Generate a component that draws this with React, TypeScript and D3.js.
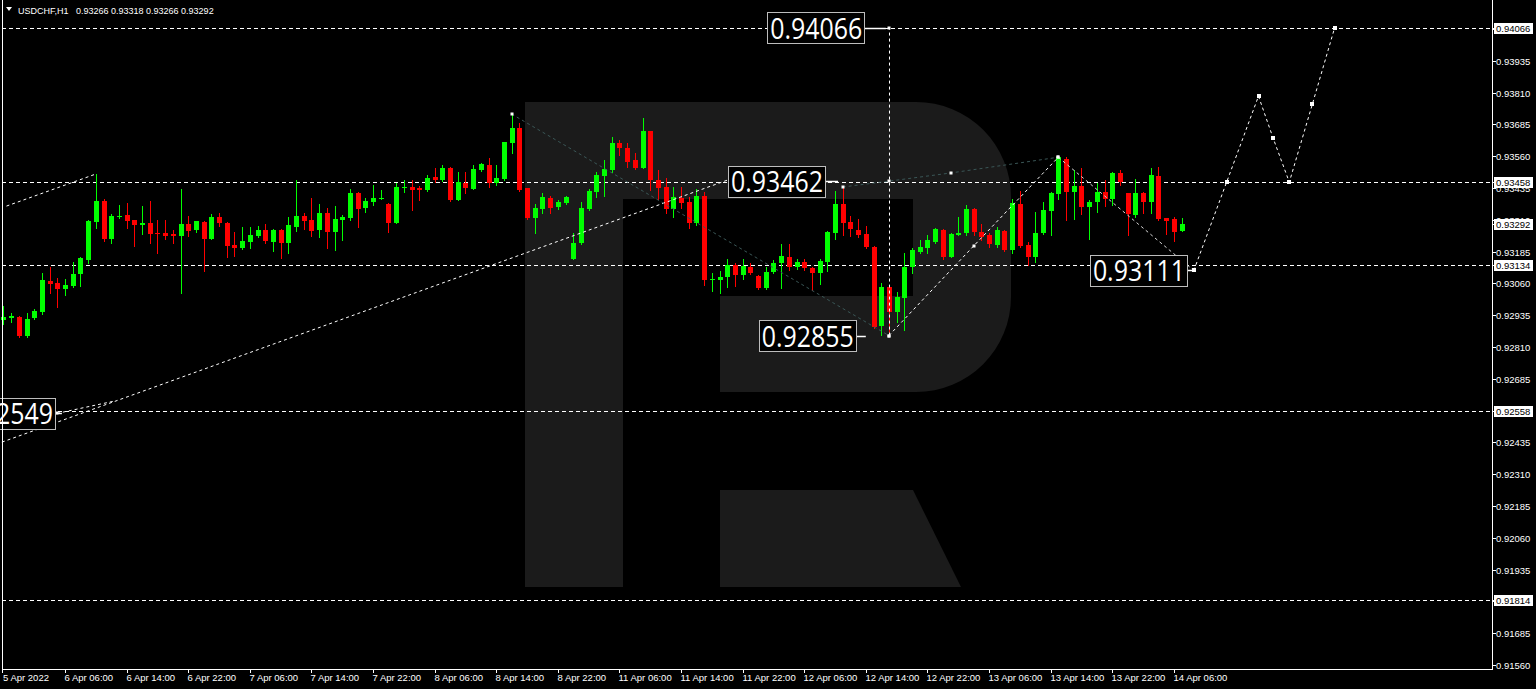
import React from "react";
import * as d3 from "d3";

const W = 1536;
const H = 689;

const symbolTitle = "USDCHF,H1";
const headerValues = ["0.93266", "0.93318", "0.93266", "0.93292"];

const timeLabels = [
  "5 Apr 2022", "6 Apr 06:00", "6 Apr 14:00", "6 Apr 22:00", "7 Apr 06:00", "7 Apr 14:00",
  "7 Apr 22:00", "8 Apr 06:00", "8 Apr 14:00", "8 Apr 22:00", "11 Apr 06:00", "11 Apr 14:00",
  "11 Apr 22:00", "12 Apr 06:00", "12 Apr 14:00", "12 Apr 22:00", "13 Apr 06:00", "13 Apr 14:00",
  "13 Apr 22:00", "14 Apr 06:00",
];
const timeLabelIdx = [0, 8, 16, 24, 32, 40, 48, 56, 64, 72, 80, 88, 96, 104, 112, 120, 128, 136, 144, 152];

const opens = [
  0.92916, 0.92924, 0.92928, 0.92853, 0.92924, 0.92947, 0.93069, 0.93061, 0.93038, 0.9305,
  0.93097, 0.93152, 0.93301, 0.93384, 0.93234, 0.93321, 0.93329, 0.93309, 0.93289, 0.93297,
  0.93258, 0.93258, 0.93254, 0.93246, 0.93293, 0.9327, 0.93301, 0.93234, 0.93321, 0.93297,
  0.93211, 0.93199, 0.93222, 0.93246, 0.9327, 0.93222, 0.9327, 0.93219, 0.93281, 0.93325,
  0.93309, 0.9327, 0.93336, 0.93262, 0.93309, 0.93317, 0.93415, 0.93356, 0.9338, 0.93391,
  0.93372, 0.93297, 0.93435, 0.93439, 0.93435, 0.93427, 0.93478, 0.93466, 0.93513, 0.93388,
  0.93454, 0.93431, 0.93505, 0.93525, 0.93454, 0.9347, 0.93612, 0.9367, 0.93435, 0.93317,
  0.93352, 0.93395, 0.9336, 0.93376, 0.93156, 0.93219, 0.93352, 0.93419, 0.93482, 0.93505,
  0.93612, 0.93592, 0.93545, 0.93513, 0.93659, 0.93466, 0.93439, 0.93352, 0.93395, 0.9338,
  0.93297, 0.93403, 0.93073, 0.93073, 0.93085, 0.93132, 0.93093, 0.93124, 0.93089, 0.93042,
  0.93105, 0.9314, 0.93164, 0.93124, 0.93144, 0.9312, 0.93101, 0.93144, 0.93258, 0.93372,
  0.93301, 0.9327, 0.93254, 0.93203, 0.92892, 0.93046, 0.92947, 0.93002, 0.93124, 0.93183,
  0.93199, 0.93222, 0.9327, 0.93164, 0.9325, 0.93258, 0.93352, 0.93262, 0.9325, 0.93211,
  0.93266, 0.93191, 0.93372, 0.93211, 0.93164, 0.93258, 0.93344, 0.93411, 0.93549, 0.93419,
  0.93443, 0.9336, 0.9338, 0.93419, 0.93391, 0.93494, 0.93415, 0.93329, 0.93415, 0.9338,
  0.93482, 0.93317, 0.93313, 0.93266,
];
const highs = [
  0.92971, 0.92943, 0.92932, 0.92943, 0.92959, 0.93101, 0.93124, 0.93081, 0.93077, 0.93144,
  0.93164, 0.93309, 0.9349, 0.93391, 0.93332, 0.93368, 0.93376, 0.93309, 0.93364, 0.93384,
  0.93309, 0.93309, 0.9327, 0.93431, 0.93325, 0.93305, 0.93305, 0.93332, 0.93336, 0.93301,
  0.93262, 0.93281, 0.93281, 0.93285, 0.93293, 0.93274, 0.93274, 0.93321, 0.93466, 0.93336,
  0.93395, 0.93372, 0.93356, 0.93364, 0.93329, 0.93431, 0.93419, 0.93395, 0.93446, 0.93427,
  0.93376, 0.93454, 0.93466, 0.93466, 0.93443, 0.93486, 0.93513, 0.93525, 0.93517, 0.93498,
  0.93498, 0.93525, 0.93533, 0.93553, 0.93525, 0.93615, 0.93726, 0.9369, 0.93435, 0.93372,
  0.93415, 0.93403, 0.93388, 0.93403, 0.93258, 0.9338, 0.93431, 0.93498, 0.93545, 0.93635,
  0.93623, 0.93612, 0.93572, 0.9371, 0.93659, 0.93505, 0.93474, 0.93439, 0.93439, 0.93399,
  0.93431, 0.93419, 0.93101, 0.93108, 0.93156, 0.9314, 0.93156, 0.9314, 0.93093, 0.93124,
  0.93152, 0.93215, 0.93215, 0.93156, 0.93156, 0.93124, 0.93156, 0.93266, 0.93423, 0.93439,
  0.93325, 0.93313, 0.93285, 0.93207, 0.93061, 0.93046, 0.93026, 0.93179, 0.93199, 0.9323,
  0.9325, 0.93277, 0.93274, 0.93258, 0.93321, 0.93368, 0.93356, 0.93293, 0.93258, 0.93281,
  0.9327, 0.93391, 0.93423, 0.93222, 0.9334, 0.9338, 0.93419, 0.9356, 0.93556, 0.93505,
  0.93513, 0.93388, 0.93454, 0.93466, 0.93498, 0.93505, 0.93415, 0.9347, 0.93419, 0.93513,
  0.93517, 0.93317, 0.93321, 0.93318,
];
const lows = [
  0.929, 0.92908, 0.92849, 0.92849, 0.9292, 0.9294, 0.93022, 0.92967, 0.93014, 0.93046,
  0.9305, 0.9314, 0.93277, 0.93226, 0.93219, 0.93317, 0.93277, 0.93207, 0.93254, 0.93219,
  0.93179, 0.93234, 0.93219, 0.93022, 0.93246, 0.93262, 0.93108, 0.93234, 0.93285, 0.93164,
  0.93167, 0.93195, 0.93199, 0.93242, 0.93219, 0.93187, 0.9316, 0.93179, 0.93266, 0.93274,
  0.93246, 0.93242, 0.93199, 0.93191, 0.9323, 0.93309, 0.93281, 0.9334, 0.93368, 0.93391,
  0.93262, 0.93297, 0.93419, 0.93348, 0.93388, 0.93423, 0.93458, 0.93462, 0.93384, 0.93388,
  0.93415, 0.93431, 0.93501, 0.93439, 0.93446, 0.93466, 0.93572, 0.93423, 0.93313, 0.93258,
  0.93336, 0.93336, 0.93352, 0.93372, 0.93156, 0.93215, 0.93348, 0.93399, 0.93403, 0.93498,
  0.93564, 0.93517, 0.93509, 0.93513, 0.93427, 0.93391, 0.93336, 0.93321, 0.93356, 0.93277,
  0.93289, 0.93053, 0.9303, 0.93022, 0.93046, 0.9305, 0.93077, 0.93097, 0.93038, 0.93038,
  0.93101, 0.93042, 0.93112, 0.93116, 0.93112, 0.93034, 0.93057, 0.93108, 0.93234, 0.9325,
  0.93246, 0.93242, 0.93199, 0.92885, 0.92858, 0.92855, 0.92908, 0.92877, 0.93101, 0.93179,
  0.93179, 0.93219, 0.93156, 0.93164, 0.9325, 0.9325, 0.9325, 0.9323, 0.93203, 0.93203,
  0.93187, 0.93179, 0.93203, 0.93132, 0.93144, 0.93254, 0.9325, 0.93391, 0.93309, 0.93313,
  0.93332, 0.93234, 0.9334, 0.93364, 0.93368, 0.93446, 0.9325, 0.93321, 0.93336, 0.93336,
  0.93309, 0.93254, 0.93226, 0.93266,
];
const closes = [
  0.92928, 0.92932, 0.92853, 0.9292, 0.92951, 0.93073, 0.93057, 0.93038, 0.93053, 0.93097,
  0.9316, 0.93305, 0.93384, 0.93234, 0.93325, 0.93325, 0.93305, 0.93289, 0.93297, 0.93254,
  0.93254, 0.93246, 0.93246, 0.93293, 0.93266, 0.93305, 0.93234, 0.93321, 0.93297, 0.93207,
  0.93199, 0.93226, 0.9325, 0.9327, 0.93226, 0.9327, 0.93219, 0.93289, 0.93325, 0.93305,
  0.93266, 0.93336, 0.93262, 0.93313, 0.93321, 0.93415, 0.93352, 0.93384, 0.93395, 0.93395,
  0.93297, 0.93439, 0.93439, 0.93427, 0.93427, 0.93474, 0.93466, 0.93513, 0.93388, 0.93458,
  0.93435, 0.93509, 0.93529, 0.93454, 0.93474, 0.93615, 0.9367, 0.93427, 0.93317, 0.93356,
  0.93399, 0.93356, 0.9338, 0.93399, 0.93219, 0.93356, 0.93423, 0.93486, 0.93509, 0.93612,
  0.93592, 0.93537, 0.93513, 0.93659, 0.93466, 0.93435, 0.93352, 0.93399, 0.93376, 0.93297,
  0.93403, 0.93073, 0.93077, 0.93085, 0.93132, 0.93093, 0.93128, 0.93101, 0.93042, 0.93105,
  0.9314, 0.93167, 0.93124, 0.93144, 0.9312, 0.93101, 0.93148, 0.93262, 0.93372, 0.93297,
  0.93274, 0.9325, 0.93203, 0.92888, 0.93046, 0.92947, 0.93006, 0.93124, 0.93191, 0.93203,
  0.9323, 0.93274, 0.93164, 0.93254, 0.93258, 0.93352, 0.93262, 0.93242, 0.93215, 0.9327,
  0.93191, 0.93376, 0.93207, 0.93164, 0.93258, 0.93348, 0.93415, 0.93556, 0.93419, 0.93443,
  0.9336, 0.9338, 0.93419, 0.93391, 0.93494, 0.93458, 0.93332, 0.93415, 0.9338, 0.93486,
  0.93313, 0.93305, 0.93262, 0.93292,
];

// horizontal level lines and right-axis highlighted prices
const levelPrices = [0.94066, 0.93458, 0.93134, 0.92558, 0.91814];
const currentPrice = 0.93292;

// drawn analysis lines, points as [bar index, price]
const longTrend: [number, number][] = [[-0.2, 0.92436], [94.75, 0.93474]];
const shortLink: [number, number][] = [[6.96, 0.92549], [14.5, 0.92598]];
const leftTrend: [number, number][] = [[0.4, 0.93364], [12, 0.9349]];
const darkFall: [number, number][] = [[66, 0.93726], [115, 0.92855]];
const darkChannel: [number, number][] = [[109, 0.93439], [115, 0.93462], [123, 0.93494], [137, 0.93556]];
const riseWave: [number, number][] = [[115, 0.92855], [126, 0.93207], [137, 0.93556]];
const fallWave: [number, number][] = [[137, 0.93556], [154.6, 0.93111]];
const forecast: [number, number][] = [
  [154.6, 0.93111], [158.86, 0.93458], [163, 0.93796], [164.9, 0.93631],
  [167, 0.93458], [170, 0.93765], [172.9, 0.94066],
];
const verticalIdx = 115;
const verticalFrom = 0.92855;
const verticalTo = 0.94066;

// price callouts: text, price, box right edge (bar index), connector end (bar index)
const calloutText = ["0.94066", "0.93462", "0.92855", "0.93111", "0.92549"];
const calloutPrice = [0.94066, 0.93462, 0.92855, 0.93111, 0.92549];
const calloutBoxIdx = [111.8, 106.7, 110.7, 153.7, 6.7];
const calloutEndIdx = [114.6, 108.4, 112.0, 154.8, 7.6];

const PLOT_L = 2;
const PLOT_R = 1492;
const PLOT_B = 669;

export default function App() {
  const x = d3.scaleLinear().domain([0, 153]).range([3.4, 3.4 + 153 * 7.7]);
  const y = d3.scaleLinear().domain([0.9156, 0.94066]).range([665, 27.5]);
  const line = d3
    .line<[number, number]>()
    .x((d) => x(d[0]))
    .y((d) => y(d[1]));
  const ticks = d3.range(0, 21).map((k) => 0.9156 + k * 0.00125);
  const fmt = d3.format(".5f");
  const smallFont = "'Liberation Sans', Arial, sans-serif";
  const bigFont = "'Open Sans', 'Liberation Sans', sans-serif";

  const marker = (p: [number, number], key: string, s = 3) => (
    <rect
      key={key}
      x={Math.round(x(p[0])) - s / 2}
      y={Math.round(y(p[1])) - s / 2}
      width={s}
      height={s}
      fill="#fff"
    />
  );

  const logoColor = "#1b1b1b";

  return (
    <svg
      width={W}
      height={H}
      style={{ position: "absolute", left: 0, top: 0, display: "block" }}
      xmlns="http://www.w3.org/2000/svg"
    >
      <defs>
        <clipPath id="plot">
          <rect x={0} y={0} width={PLOT_R} height={PLOT_B} />
        </clipPath>
      </defs>
      <rect x={0} y={0} width={W} height={H} fill="#000" />

      {/* background logo */}
      <g fill={logoColor}>
        <rect x={525} y={102} width={98} height={485} />
        <path d="M623,102 H916 A95,95 0 0 1 1011,197 V297 A95,95 0 0 1 916,392 H720 V296 H913 V199 H623 Z" />
        <path d="M720,490 H913 L961,587 H720 Z" />
      </g>

      <g clipPath="url(#plot)">
        {/* level lines */}
        {levelPrices.map((p, i) => (
          <line
            key={"lv" + i}
            x1={PLOT_L}
            x2={PLOT_R}
            y1={Math.round(y(p)) + 0.5}
            y2={Math.round(y(p)) + 0.5}
            stroke="#fff"
            strokeDasharray="4,3"
            shapeRendering="crispEdges"
          />
        ))}

        {/* candles */}
        {opens.map((o, i) => {
          const c = closes[i];
          const up = c >= o;
          const col = up ? "#00ff00" : "#ff0000";
          const cx = Math.round(x(i)) + 0.5;
          const top = Math.round(y(Math.max(o, c)));
          const bot = Math.round(y(Math.min(o, c)));
          return (
            <g key={"c" + i} shapeRendering="crispEdges">
              <line x1={cx} x2={cx} y1={Math.round(y(highs[i]))} y2={Math.round(y(lows[i])) + 1} stroke={col} />
              <rect x={cx - 2.5} y={top} width={5} height={Math.max(1, bot - top)} fill={col} />
            </g>
          );
        })}

        {/* analysis lines */}
        <path d={line(longTrend) || ""} fill="none" stroke="#fff" strokeDasharray="3,3" />
        <path d={line(shortLink) || ""} fill="none" stroke="#fff" strokeDasharray="3,3" />
        <path d={line(leftTrend) || ""} fill="none" stroke="#fff" strokeDasharray="3,3" />
        <path d={line(darkFall) || ""} fill="none" stroke="#3a5656" strokeDasharray="3,3" />
        <path d={line(darkChannel) || ""} fill="none" stroke="#3a5656" strokeDasharray="3,3" />
        <path d={line(riseWave) || ""} fill="none" stroke="#fff" strokeDasharray="3,3" />
        <path d={line(fallWave) || ""} fill="none" stroke="#d8d8d8" strokeDasharray="3,3" />
        <path d={line(forecast) || ""} fill="none" stroke="#fff" strokeDasharray="3,3" />
        <line
          x1={Math.round(x(verticalIdx)) + 0.5}
          x2={Math.round(x(verticalIdx)) + 0.5}
          y1={y(verticalFrom)}
          y2={y(verticalTo)}
          stroke="#fff"
          strokeDasharray="3,3"
        />
        {[darkFall[0], darkFall[1]].map((p, i) => marker(p, "mf" + i))}
        {darkChannel.map((p, i) => marker(p, "mc" + i))}
        {riseWave.map((p, i) => marker(p, "mr" + i))}
        {forecast.map((p, i) => marker(p, "mfc" + i, 4))}
        {marker([verticalIdx, verticalTo], "mv")}
        {marker(shortLink[0], "ms")}

        {/* callouts */}
        {calloutText.map((t, i) => {
          const cy = y(calloutPrice[i]);
          const right = x(calloutBoxIdx[i]);
          const end = x(calloutEndIdx[i]);
          const bw = 97;
          const bh = 31;
          return (
            <g key={"co" + i}>
              <line x1={right} x2={end} y1={Math.round(cy) + 0.5} y2={Math.round(cy) + 0.5} stroke="#fff" strokeWidth={1.5} />
              <rect
                x={Math.round(right - bw) + 0.5}
                y={Math.round(cy - bh / 2) + 0.5}
                width={bw}
                height={bh}
                fill="#000"
                stroke="#bdbdbd"
              />
              <text
                x={right - bw + 3}
                y={cy + 11}
                fill="#fff"
                fontFamily={bigFont}
                fontSize={30}
                textLength={92}
                lengthAdjust="spacingAndGlyphs"
              >
                {t}
              </text>
            </g>
          );
        })}
      </g>

      {/* frame */}
      <g stroke="#fff" shapeRendering="crispEdges">
        <line x1={PLOT_L + 0.5} x2={PLOT_L + 0.5} y1={0} y2={PLOT_B + 0.5} />
        <line x1={PLOT_L} x2={PLOT_R + 0.5} y1={PLOT_B + 0.5} y2={PLOT_B + 0.5} />
        <line x1={PLOT_R + 0.5} x2={PLOT_R + 0.5} y1={0} y2={PLOT_B + 0.5} />
      </g>

      {/* header */}
      <path d="M6,7 L12,7 L9,11 Z" fill="#fff" />
      <text x={18} y={14} fill="#fff" fontFamily={smallFont} fontSize={9}>
        {symbolTitle}
      </text>
      <text x={76} y={14} fill="#fff" fontFamily={smallFont} fontSize={9}>
        {headerValues.join(" ")}
      </text>

      {/* price axis */}
      {ticks.map((t, i) => {
        const ty = Math.round(y(t)) + 0.5;
        return (
          <g key={"t" + i}>
            <line x1={PLOT_R} x2={PLOT_R + 4} y1={ty} y2={ty} stroke="#fff" shapeRendering="crispEdges" />
            <text x={1496} y={ty + 3.5} fill="#fff" fontFamily={smallFont} fontSize={9.5}>
              {fmt(t)}
            </text>
          </g>
        );
      })}
      {[...levelPrices, currentPrice].map((p, i) => {
        const ty = Math.round(y(p));
        return (
          <g key={"hb" + i}>
            <line x1={PLOT_R} x2={PLOT_R + 4} y1={ty + 0.5} y2={ty + 0.5} stroke="#fff" shapeRendering="crispEdges" />
            <rect x={1494} y={ty - 5} width={39} height={11} fill="#fff" />
            <text x={1496} y={ty + 4} fill="#000" fontFamily={smallFont} fontSize={9.5}>
              {fmt(p)}
            </text>
          </g>
        );
      })}

      {/* time axis */}
      {timeLabels.map((lab, i) => {
        const tx = i === 0 ? PLOT_L + 0.5 : Math.round(x(timeLabelIdx[i])) + 0.5;
        return (
          <g key={"tl" + i}>
            <line x1={tx} x2={tx} y1={PLOT_B} y2={PLOT_B + 4} stroke="#fff" shapeRendering="crispEdges" />
            <text x={tx + (i === 0 ? 0.5 : -1)} y={681} fill="#fff" fontFamily={smallFont} fontSize={9.5}>
              {lab}
            </text>
          </g>
        );
      })}
    </svg>
  );
}
